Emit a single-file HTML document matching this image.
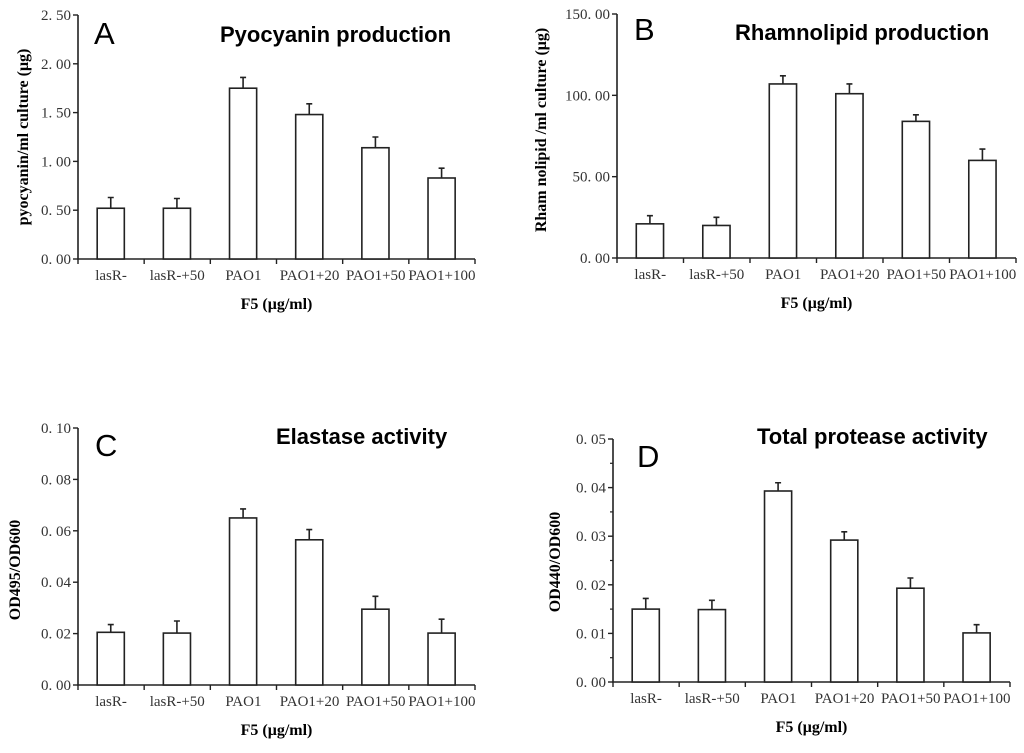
<!DOCTYPE html>
<html><head><meta charset="utf-8"><style>
body{margin:0;background:#fff;}
svg{display:block;}
.tk{font-family:"Liberation Serif",serif;font-size:15px;fill:#333;}
.tt{font-family:"Liberation Sans",sans-serif;font-size:22px;font-weight:bold;fill:#000;}
.lt{font-family:"Liberation Sans",sans-serif;font-size:31px;fill:#000;}
.yt{font-family:"Liberation Serif",serif;font-size:16px;font-weight:bold;fill:#000;}
.xt{font-family:"Liberation Serif",serif;font-size:16px;font-weight:bold;fill:#000;}
</style></head><body>
<svg id="c" width="1024" height="753"></svg>
<script>
const categories=["lasR-","lasR-+50","PAO1","PAO1+20","PAO1+50","PAO1+100"];
const valuesA=[0.52,0.52,1.75,1.48,1.14,0.83];
const errorsA=[0.11,0.10,0.11,0.11,0.11,0.10];
const ticksA=["0. 00","0. 50","1. 00","1. 50","2. 00","2. 50"];
const valuesB=[21,20,107,101,84,60];
const errorsB=[5,5,5,6,4,7];
const ticksB=["0. 00","50. 00","100. 00","150. 00"];
const valuesC=[0.0205,0.0202,0.065,0.0565,0.0295,0.0202];
const errorsC=[0.003,0.0047,0.0035,0.004,0.005,0.0054];
const ticksC=["0. 00","0. 02","0. 04","0. 06","0. 08","0. 10"];
const valuesD=[0.015,0.0149,0.0393,0.0292,0.0193,0.0101];
const errorsD=[0.0022,0.0019,0.0017,0.0017,0.0021,0.0017];
const ticksD=["0. 00","0. 01","0. 02","0. 03","0. 04","0. 05"];

const svg=document.getElementById('c');
const NS='http://www.w3.org/2000/svg';
function mk(t,a,p){const e=document.createElementNS(NS,t);for(const k in a)e.setAttribute(k,a[k]);(p||svg).appendChild(e);return e;}
function panel(o){
  const g=mk('g',{});
  
  
  const max=parseFloat(o.ticks[o.ticks.length-1].replace(/\s/g,''));
  const y=v=>o.bottom-(v/max)*(o.bottom-o.top);
  const cw=(o.right-o.left)/categories.length;
  const x=i=>o.left+i*cw;
  const ax=mk('path',{d:`M${o.left},${o.top}V${o.bottom}H${o.right}`,stroke:'#222','stroke-width':1.6,fill:'none'},g);
  
  
  o.ticks.forEach((t,i)=>{
    const v=parseFloat(t.replace(/\s/g,''));const yy=y(v);
    mk('line',{x1:o.left-5,x2:o.left,y1:yy,y2:yy,stroke:'#222','stroke-width':1.4},g);
    const tx=mk('text',{x:o.left-7,y:yy+5,'text-anchor':'end',class:'tk'},g);tx.textContent=t;
    
    
    if(o.minor&&i<o.ticks.length-1){const ym=y(v+max/(o.ticks.length-1)/2);mk('line',{x1:o.left-3,x2:o.left,y1:ym,y2:ym,stroke:'#222','stroke-width':1.2},g);}
  });
  for(let i=0;i<=categories.length;i++){mk('line',{x1:x(i),x2:x(i),y1:o.bottom,y2:o.bottom+5,stroke:'#222','stroke-width':1.4},g);}
  categories.forEach((c,i)=>{
    const bx=x(i)+cw*0.29,bw=cw*0.41,top=y(o.values[i]),et=y(o.values[i]+o.errors[i]),cx=bx+bw/2;
    const eb=mk('path',{d:`M${cx},${top}V${et}M${cx-3},${et}H${cx+3}`,stroke:'#222','stroke-width':1.6,fill:'none'},g);
    
    
    const r=mk('rect',{x:bx,y:top,width:bw,height:o.bottom-top,fill:'#fff',stroke:'#222','stroke-width':1.6},g);
    
    
    const l=mk('text',{x:x(i)+cw/2,y:o.bottom+21,'text-anchor':'middle',class:'tk'},g);l.textContent=c;
    
    
  });
  const xt=mk('text',{x:(o.left+o.right)/2,y:o.bottom+50,'text-anchor':'middle',class:'xt'},g);xt.textContent='F5 (μg/ml)';
  
  
  const yt=mk('text',{x:0,y:0,'text-anchor':'middle',class:'yt',transform:`translate(${o.ytx},${o.yty}) rotate(-90)`},g);yt.textContent=o.ytitle;
  
  
  const lt=mk('text',{x:o.lx,y:o.ly,class:'lt'},g);lt.textContent=o.id;
  
  
  const tt=mk('text',{x:o.tx,y:o.ty,class:'tt'},g);tt.textContent=o.title;
  
  
}
panel({id:'A',left:78,right:475,top:15,bottom:259,values:valuesA,errors:errorsA,ticks:ticksA,ytitle:'pyocyanin/ml culture (μg)',ytx:28,yty:137,lx:94,ly:44,title:'Pyocyanin production',tx:220,ty:42});
panel({id:'B',left:617,right:1016,top:14,bottom:258,values:valuesB,errors:errorsB,ticks:ticksB,ytitle:'Rham nolipid /ml culture (μg)',ytx:546,yty:130,lx:634,ly:40,title:'Rhamnolipid production',tx:735,ty:40});
panel({id:'C',left:78,right:475,top:428,bottom:685,values:valuesC,errors:errorsC,ticks:ticksC,ytitle:'OD495/OD600',ytx:20,yty:570,lx:95,ly:456,title:'Elastase activity',tx:276,ty:444,});
panel({id:'D',left:613,right:1010,top:439,bottom:682,values:valuesD,errors:errorsD,ticks:ticksD,minor:true,ytitle:'OD440/OD600',ytx:560,yty:562,lx:637,ly:467,title:'Total protease activity',tx:757,ty:444});
</script>
</body></html>
